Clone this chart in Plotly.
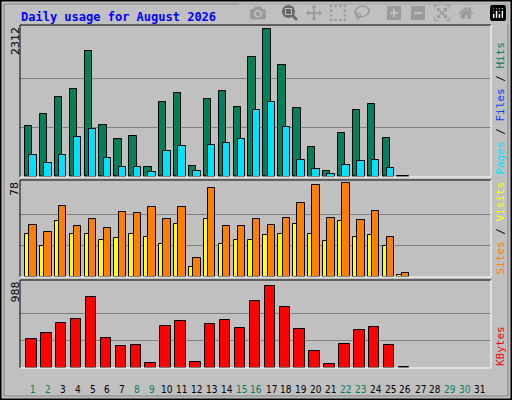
import plotly.graph_objects as go

days = list(range(1, 32))
day_labels = [str(d) for d in days]
weekend = [1, 2, 8, 9, 15, 16, 22, 23, 29, 30]
hits = [805,994,1261,1371,1967,821,602,649,162,1182,1323,178,1229,1355,1104,1873,2312,1747,1088,476,99,696,1057,1151,617,16]
files = [350,225,350,633,758,303,162,162,84,413,492,99,507,539,602,1056,1182,790,272,131,52,194,256,272,146,10]
pages = [12,10,14,12,15,10,9,9,5,12,12,5,12,12,11,14,16,13,11,7,4,9,11,11,8,1]
visits = [36,26,46,36,36,31,32,36,33,27,44,8,48,27,31,31,35,36,44,36,30,46,33,35,26,2]
sites = [43,37,59,42,48,41,54,53,58,48,58,16,74,42,42,48,43,49,61,76,49,78,47,55,33,3]
kbytes = [347,423,543,586,847,358,261,271,65,510,565,76,532,575,478,803,988,738,467,206,43,293,456,489,271,7]

n = len(hits)
x = days[:n]
fig = go.Figure()
ln = dict(color="black", width=1)
def bar(y, color, off, w, ax):
    fig.add_trace(go.Bar(x=x, y=y, marker=dict(color=color, line=ln), offset=off, width=w,
                         xaxis="x", yaxis=ax, showlegend=False))
bar(hits, "#00805c", -0.54, 0.5, "y")
bar(files, "#00e0ff", -0.25, 0.5, "y")
bar(pages, "#00c0ff", -0.54, 0.15, "y")
bar(visits, "#ffff00", -0.54, 0.29, "y2")
bar(sites, "#ff8000", -0.25, 0.5, "y2")
bar(kbytes, "#ff0000", -0.45, 0.7, "y3")

X0, X1 = 20/512, 491/512
doms = [(223/400, 375/400), (123/400, 220/400), (32/400, 120/400)]
maxes = [max(hits), max(sites), max(kbytes)]
ax_common = dict(showticklabels=False, ticks="", zeroline=False, showline=False,
                 gridcolor="#808080", gridwidth=1)
fig.update_layout(
    width=512, height=400, margin=dict(l=0, r=0, t=0, b=0),
    paper_bgcolor="#c0c0c0", plot_bgcolor="#c0c0c0", barmode="overlay", bargap=0,
    xaxis=dict(range=[0.13, 31.74], domain=[X0, X1], showticklabels=False, showgrid=False,
               zeroline=False, ticks=""),
    yaxis=dict(domain=doms[0], range=[0, maxes[0]*1.03], tickvals=[maxes[0]/3, maxes[0]*2/3], **ax_common),
    yaxis2=dict(domain=doms[1], range=[0, maxes[1]*1.03], tickvals=[maxes[1]/3, maxes[1]*2/3], **ax_common),
    yaxis3=dict(domain=doms[2], range=[0, maxes[2]*1.07], tickvals=[maxes[2]/3, maxes[2]*2/3], **ax_common),
)
shapes = [
    dict(type="rect", xref="paper", yref="paper", x0=0.001, x1=0.999, y0=0.001, y1=0.999,
         line=dict(color="black", width=2)),
    dict(type="rect", xref="paper", yref="paper", x0=4/512, x1=508/512, y0=4/400, y1=396/400,
         line=dict(color="#808080", width=1)),
]
for d0, d1 in doms:
    shapes.append(dict(type="line", xref="paper", yref="paper", x0=X0, x1=X0, y0=d0, y1=d1, line=dict(color="black", width=1)))
    shapes.append(dict(type="line", xref="paper", yref="paper", x0=X0, x1=X1, y0=d1, y1=d1, line=dict(color="black", width=1)))
    shapes.append(dict(type="line", xref="paper", yref="paper", x0=X1, x1=X1, y0=d0, y1=d1, line=dict(color="white", width=1)))
    shapes.append(dict(type="line", xref="paper", yref="paper", x0=X0, x1=X1, y0=d0, y1=d0, line=dict(color="white", width=1)))
fig.update_layout(shapes=shapes)

ann = [dict(text="<b>Daily usage for August 2026</b>", x=19/512, y=392/400, xref="paper", yref="paper",
            xanchor="left", yanchor="top", showarrow=False,
            font=dict(family="DejaVu Sans Mono", size=12, color="#0000ff"))]
for (d0, d1), m in zip(doms, maxes):
    ann.append(dict(text=str(m), x=15/512, y=d1, xref="paper", yref="paper", textangle=-90,
                    xanchor="center", yanchor="top", showarrow=False,
                    font=dict(family="DejaVu Sans", size=11, color="black")))
right = [
    ('<span style="color:#00e0ff">Pages</span> / <span style="color:#0040ff">Files</span> / <span style="color:#00805c">Hits</span>', doms[0]),
    ('<span style="color:#ff8000">Sites</span> / <span style="color:#ffff00">Visits</span>', doms[1]),
    ('<span style="color:#ff0000">KBytes</span>', doms[2]),
]
for t, (d0, d1) in right:
    ann.append(dict(text=t, x=500/512, y=d0, xref="paper", yref="paper", textangle=-90,
                    xanchor="center", yanchor="bottom", showarrow=False,
                    font=dict(family="DejaVu Sans Mono", size=11, color="black")))
for d, lab in zip(days, day_labels):
    ann.append(dict(text=lab, x=d, y=1 - 389/400, xref="x", yref="paper", showarrow=False,
                    yanchor="middle", xanchor="center",
                    font=dict(family="DejaVu Sans Condensed", size=10,
                              color="#00805c" if d in weekend else "black")))
fig.update_layout(annotations=ann)
fig.write_html("out.html")
with open("out.html") as f:
    html = f.read()
html = html.replace("<head>", "<head><style>html,body{margin:0;padding:0;overflow:hidden;}</style>", 1)
with open("out.html", "w") as f:
    f.write(html)
